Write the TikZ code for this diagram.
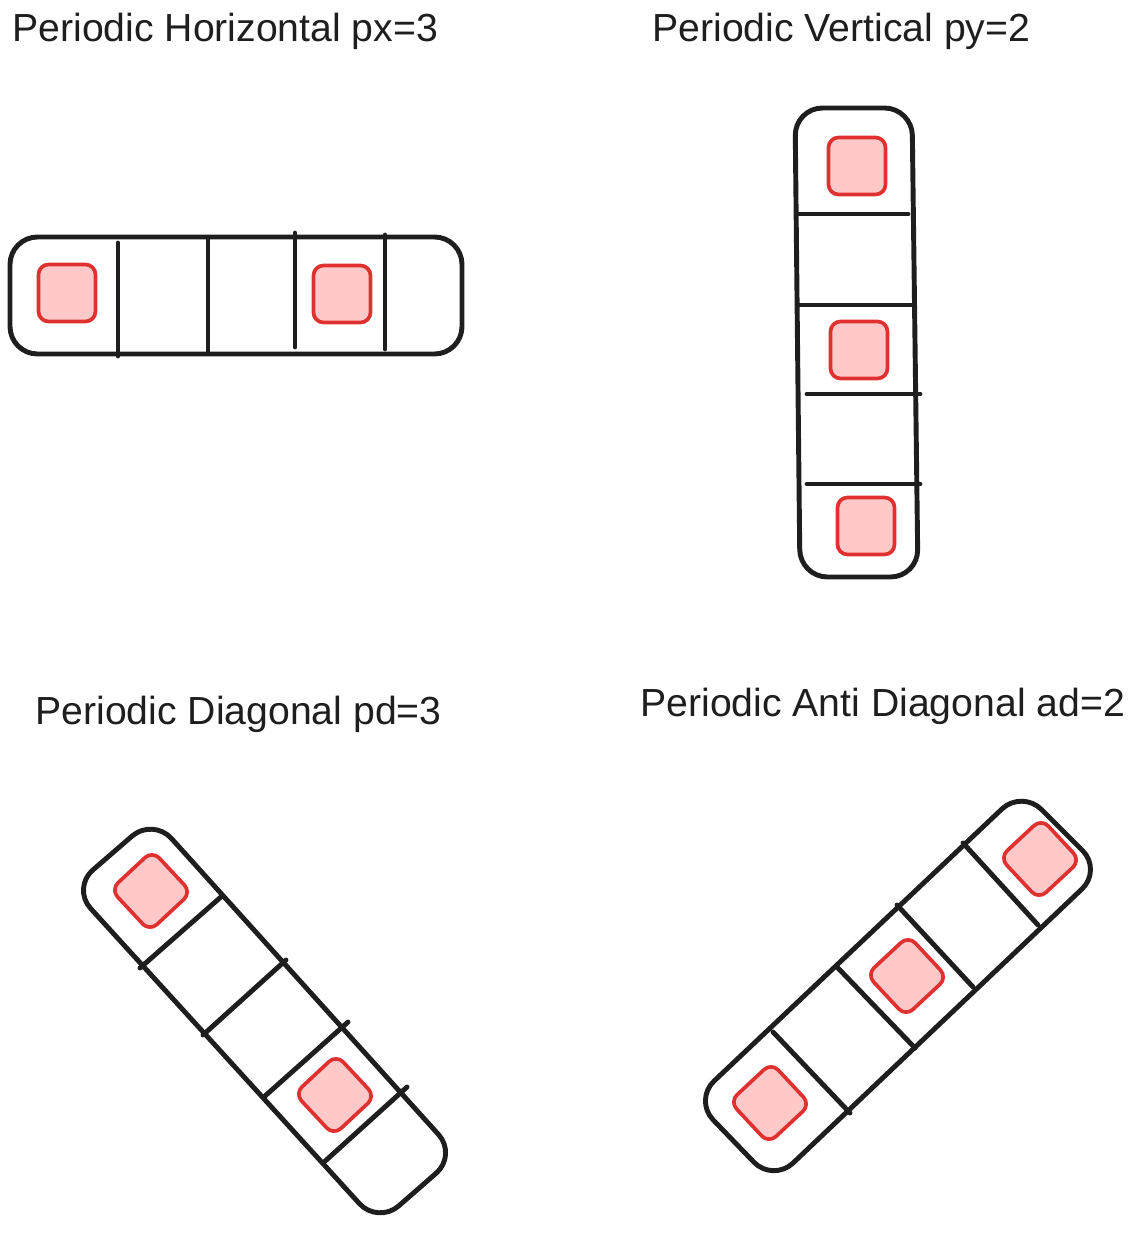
\documentclass[tikz,border=0pt]{standalone}
\usepackage{fontspec}
\setmainfont{Liberation Sans}
\usepackage{tikz}
\usepackage{tkz-euclide}
\usetikzlibrary{calc}
\definecolor{ink}{HTML}{1E1E1E}
\definecolor{cellred}{HTML}{E03131}
\definecolor{cellfill}{HTML}{FFC9C9}
\tikzset{
  frame/.style={draw=ink, line width=2.8pt, rounded corners=0.55cm, line join=round},
  divider/.style={draw=ink, line width=2.8pt, line cap=round},
  cell/.style={draw=cellred, fill=cellfill, line width=2.1pt, rounded corners=0.2cm,
    minimum size=1.14cm, inner sep=0pt},
  caption/.style={anchor=base west, inner sep=0pt, text=ink,
    font=\fontsize{22.3}{26}\selectfont}
}
\newcommand\drawframe[4]{\draw[frame] ($(#1)!.5!(#2)$) -- (#2) -- (#3) -- (#4) -- (#1) -- cycle;}
\begin{document}
\begin{tikzpicture}[x=0.02cm, y=-0.02cm]
\useasboundingbox (0,0) rectangle (1136,1239);
% titles
\node[caption] (tH) at (12,42) {Periodic Horizontal px=3};
\node[caption] (tV) at (652,42) {Periodic Vertical py=2};
\node[caption] (tD) at (35,724) {Periodic Diagonal pd=3};
\node[caption] (tA) at (640,716) {Periodic Anti Diagonal ad=2};
% horizontal
\tkzDefPoints{10/237/hA, 462/237/hB, 462/354/hC, 10/354/hD}
\drawframe{hA}{hB}{hC}{hD}
\tkzDefPoints{118/243/h1, 118/356/h2, 208/238/h3, 208/353/h4,
  295/233/h5, 295/347/h6, 385/235/h7, 385/349/h8}
\tkzDrawSegments[divider](h1,h2 h3,h4 h5,h6 h7,h8)
\node[cell] (hx1) at (67,293) {};
\node[cell] (hx2) at (342,294) {};
% vertical
\tkzDefPoints{795/108/vA, 912/108/vB, 918/577/vC, 800/577/vD}
\drawframe{vA}{vB}{vC}{vD}
\tkzDefPoints{797/214/v1, 908/214/v2, 799/305/v3, 912/305/v4,
  807/394/v5, 920/394/v6, 807/484/v7, 920/484/v8}
\tkzDrawSegments[divider](v1,v2 v3,v4 v5,v6 v7,v8)
\node[cell] (vy1) at (857,166) {};
\node[cell] (vy2) at (859,350) {};
\node[cell] (vy3) at (866,526) {};
% diagonal
\tkzDefPoints{153/818/dA, 457/1155/dB, 378/1224/dC, 72/888/dD}
\drawframe{dA}{dB}{dC}{dD}
\tkzDefPoints{222/896/d1, 140/968/d2, 286/960/d3, 203/1035/d4,
  348/1022/d5, 265/1096/d6, 407/1087/d7, 323/1163/d8}
\tkzDrawSegments[divider](d1,d2 d3,d4 d5,d6 d7,d8)
\node[cell, rotate=43] (dg1) at (151,891) {};
\node[cell, rotate=43] (dg2) at (335,1095) {};
% anti diagonal
\tkzDefPoints{694/1100/aA, 773/1182/aB, 1102/870/aC, 1022/790/aD}
\drawframe{aA}{aB}{aC}{aD}
\tkzDefPoints{773/1032/a1, 850/1113/a2, 837/967/a3, 915/1048/a4,
  897/905/a5, 973/987/a6, 963/843/a7, 1038/925/a8}
\tkzDrawSegments[divider](a1,a2 a3,a4 a5,a6 a7,a8)
\node[cell, rotate=43] (ag1) at (770,1103) {};
\node[cell, rotate=43] (ag2) at (907,976) {};
\node[cell, rotate=43] (ag3) at (1040,859) {};
\end{tikzpicture}
\end{document}
